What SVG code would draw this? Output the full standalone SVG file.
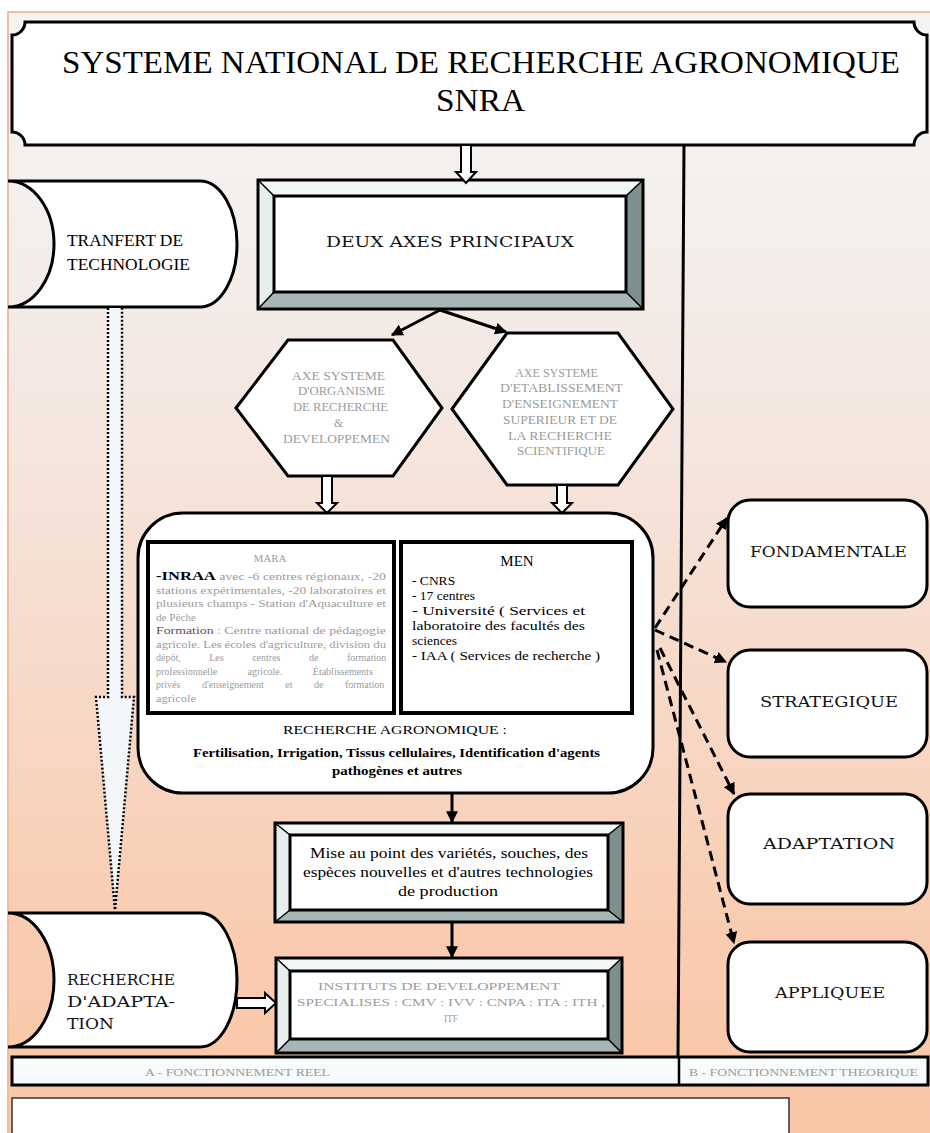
<svg xmlns="http://www.w3.org/2000/svg" width="930" height="1133" viewBox="0 0 930 1133">
  <defs>
    <linearGradient id="bg" x1="0" y1="0" x2="0" y2="1">
      <stop offset="0" stop-color="#f6f4f3"/>
      <stop offset="0.18" stop-color="#f3efed"/>
      <stop offset="0.4" stop-color="#f5e5dd"/>
      <stop offset="0.62" stop-color="#f7d8c6"/>
      <stop offset="0.82" stop-color="#f9ccb1"/>
      <stop offset="1" stop-color="#f9c6a5"/>
    </linearGradient>
    <marker id="ah" viewBox="0 0 10 10" refX="9" refY="5" markerWidth="4" markerHeight="4" orient="auto">
      <path d="M0,0 L10,5 L0,10 z" fill="#000"/>
    </marker>
  </defs>
  <style>
    .f{font-family:"Liberation Serif","Times New Roman",serif;fill:#000}
    .slab{font-family:"DejaVu Serif","Liberation Serif",serif;fill:#111}
    .g{fill:#9c9c9c}
    .ln{fill:none;stroke:#000;stroke-width:3}
    .box{fill:#fff;stroke:#000;stroke-width:3}
    .hollow{fill:#fff;stroke:#000;stroke-width:2}
    .dash{fill:none;stroke:#000;stroke-width:3;stroke-dasharray:10 6}
    .bt{fill:#f3f7f7}.bl{fill:#e7eeee}.br{fill:#7e8f8d}.bb{fill:#a8b7b6}
    .diag{stroke:#000;stroke-width:1.5}
  </style>

  <!-- page background -->
  <rect x="0" y="0" width="930" height="1133" fill="#ffffff"/>
  <rect x="8" y="12" width="924" height="1125" fill="url(#bg)" stroke="#f1bd9e" stroke-width="2"/>

  <!-- column divider -->
  <path d="M684 145 L678 1057" class="ln" stroke-width="2.5"/>

  <!-- title plaque -->
  <g id="title">
    <path d="M25 22 H914 A13 13 0 0 0 927 35 V132 A13 13 0 0 0 914 145 H25 A13 13 0 0 0 12 132 V35 A13 13 0 0 0 25 22 Z" class="box"/>
    <text class="f" x="62" y="73" font-size="31" textLength="838" lengthAdjust="spacingAndGlyphs">SYSTEME NATIONAL DE RECHERCHE AGRONOMIQUE</text>
    <text class="f" x="436" y="111" font-size="31" textLength="89" lengthAdjust="spacingAndGlyphs">SNRA</text>
  </g>

  <!-- transfer of technology -->
  <g id="transfert">
    <path d="M8 181 H200 A37 63 0 0 1 200 307 H8 A46 63 0 0 0 8 181 Z" class="box"/>
    <text class="f" x="67" y="246" font-size="16" textLength="116" lengthAdjust="spacingAndGlyphs">TRANFERT DE</text>
    <text class="f" x="67" y="270" font-size="16" textLength="123" lengthAdjust="spacingAndGlyphs">TECHNOLOGIE</text>
  </g>

  <!-- two main axes -->
  <g id="deux-axes">
    <polygon class="bt" points="258,180 643,180 626,196 274,196"/>
    <polygon class="bl" points="258,180 274,196 274,292 258,309"/>
    <polygon class="br" points="643,180 643,309 626,292 626,196"/>
    <polygon class="bb" points="258,309 274,292 626,292 643,309"/>
    <path class="diag" d="M258 180 L274 196 M643 180 L626 196 M258 309 L274 292 M643 309 L626 292"/>
    <rect x="274" y="196" width="352" height="96" class="box"/>
    <rect x="258" y="180" width="385" height="129" fill="none" stroke="#000" stroke-width="3"/>
    <text class="slab" x="326" y="247" font-size="14" textLength="248" lengthAdjust="spacingAndGlyphs">DEUX AXES PRINCIPAUX</text>
  </g>

  <!-- research & development axis -->
  <g id="axe-rd">
    <polygon points="236,408 288,340 393,340 442,408 393,476 288,476" class="box"/>
    <g class="f g" font-size="12">
      <text x="292" y="380" textLength="93" lengthAdjust="spacingAndGlyphs">AXE SYSTEME</text>
      <text x="298" y="395" textLength="87" lengthAdjust="spacingAndGlyphs">D'ORGANISME</text>
      <text x="293" y="411" textLength="95" lengthAdjust="spacingAndGlyphs">DE RECHERCHE</text>
      <text x="334" y="427">&amp;</text>
      <text x="283" y="443" textLength="107" lengthAdjust="spacingAndGlyphs">DEVELOPPEMEN</text>
    </g>
  </g>

  <!-- higher education axis -->
  <g id="axe-esrs">
    <polygon points="452,409 507,333 618,333 673,409 618,485 507,485" class="box"/>
    <g class="f g" font-size="12">
      <text x="515" y="377" textLength="83" lengthAdjust="spacingAndGlyphs">AXE SYSTEME</text>
      <text x="500" y="392" textLength="123" lengthAdjust="spacingAndGlyphs">D'ETABLISSEMENT</text>
      <text x="502" y="408" textLength="116" lengthAdjust="spacingAndGlyphs">D'ENSEIGNEMENT</text>
      <text x="503" y="424" textLength="114" lengthAdjust="spacingAndGlyphs">SUPERIEUR ET DE</text>
      <text x="508" y="440" textLength="104" lengthAdjust="spacingAndGlyphs">LA RECHERCHE</text>
      <text x="517" y="455" textLength="88" lengthAdjust="spacingAndGlyphs">SCIENTIFIQUE</text>
    </g>
  </g>

  <!-- agronomic research block -->
  <g id="recherche">
    <rect x="138" y="513" width="515" height="280" rx="45" ry="45" class="box"/>
    <text class="f" x="395" y="734" font-size="13" text-anchor="middle" textLength="224" lengthAdjust="spacingAndGlyphs">RECHERCHE AGRONOMIQUE :</text>
    <text class="f" x="193" y="757" font-size="13" font-weight="bold" textLength="407" lengthAdjust="spacingAndGlyphs">Fertilisation, Irrigation, Tissus cellulaires, Identification d'agents</text>
    <text class="f" x="332" y="775" font-size="13" font-weight="bold" textLength="130" lengthAdjust="spacingAndGlyphs">pathogènes et autres</text>
  </g>

  <g id="mara">
    <rect x="148" y="542" width="246" height="171" fill="#fff" stroke="#000" stroke-width="4"/>
    <g class="f" font-size="10">
      <text x="270" y="562" text-anchor="middle" class="g" font-size="11">MARA</text>
      <text x="156" y="580" textLength="230" lengthAdjust="spacingAndGlyphs"><tspan font-weight="bold" font-size="12" fill="#000">-INRAA</tspan><tspan class="g"> avec -6 centres régionaux, -20</tspan></text>
      <text x="156" y="594" class="g" textLength="230" lengthAdjust="spacingAndGlyphs">stations expérimentales, -20 laboratoires et</text>
      <text x="156" y="607" class="g" textLength="230" lengthAdjust="spacingAndGlyphs">plusieurs champs - Station d'Aquaculture et</text>
      <text x="156" y="621" class="g" textLength="40" lengthAdjust="spacingAndGlyphs">de Pêche</text>
      <text x="156" y="634" textLength="230" lengthAdjust="spacingAndGlyphs"><tspan fill="#555">Formation</tspan><tspan class="g"> : Centre national de pédagogie</tspan></text>
      <text x="156" y="648" class="g" textLength="230" lengthAdjust="spacingAndGlyphs">agricole. Les écoles d'agriculture, division du</text>
      <text x="156" y="661" class="g" word-spacing="26">dépôt, Les centres de formation</text>
      <text x="156" y="675" class="g" word-spacing="28">professionnelle agricole. Établissements</text>
      <text x="156" y="688" class="g" word-spacing="19">privés d'enseignement et de formation</text>
      <text x="156" y="702" class="g" textLength="40" lengthAdjust="spacingAndGlyphs">agricole</text>
    </g>
  </g>

  <g id="men">
    <rect x="401" y="542" width="231" height="171" fill="#fff" stroke="#000" stroke-width="4"/>
    <g class="f" font-size="13.5">
      <text x="517" y="566" text-anchor="middle" font-size="15">MEN</text>
      <text x="412" y="585">- CNRS</text>
      <text x="412" y="600">- 17 centres</text>
      <text x="412" y="615" textLength="173" lengthAdjust="spacingAndGlyphs">- Université ( Services et</text>
      <text x="412" y="630" textLength="173" lengthAdjust="spacingAndGlyphs">laboratoire des facultés des</text>
      <text x="412" y="645">sciences</text>
      <text x="412" y="660" textLength="188" lengthAdjust="spacingAndGlyphs">- IAA ( Services de recherche )</text>
    </g>
  </g>

  <!-- development of varieties -->
  <g id="mise-au-point">
    <polygon class="bt" points="275,823 623,823 608,835 290,835"/>
    <polygon class="bl" points="275,823 290,835 290,910 275,922"/>
    <polygon class="br" points="623,823 623,922 608,910 608,835"/>
    <polygon class="bb" points="275,922 290,910 608,910 623,922"/>
    <path class="diag" d="M275 823 L290 835 M623 823 L608 835 M275 922 L290 910 M623 922 L608 910"/>
    <rect x="290" y="835" width="318" height="75" class="box"/>
    <rect x="275" y="823" width="348" height="99" fill="none" stroke="#000" stroke-width="3"/>
    <g class="f" font-size="15">
      <text x="310" y="858" textLength="278" lengthAdjust="spacingAndGlyphs">Mise au point des variétés, souches, des</text>
      <text x="303" y="877" textLength="290" lengthAdjust="spacingAndGlyphs">espèces nouvelles et d'autres technologies</text>
      <text x="398" y="896" textLength="100" lengthAdjust="spacingAndGlyphs">de production</text>
    </g>
  </g>

  <!-- specialised institutes -->
  <g id="instituts">
    <polygon class="bt" points="276,958 622,958 608,971 290,971"/>
    <polygon class="bl" points="276,958 290,971 290,1039 276,1053"/>
    <polygon class="br" points="622,958 622,1053 608,1039 608,971"/>
    <polygon class="bb" points="276,1053 290,1039 608,1039 622,1053"/>
    <path class="diag" d="M276 958 L290 971 M622 958 L608 971 M276 1053 L290 1039 M622 1053 L608 1039"/>
    <rect x="290" y="971" width="318" height="68" class="box"/>
    <rect x="276" y="958" width="346" height="95" fill="none" stroke="#000" stroke-width="3"/>
    <g class="f g" font-size="11">
      <text x="318" y="990" textLength="242" lengthAdjust="spacingAndGlyphs">INSTITUTS DE DEVELOPPEMENT</text>
      <text x="297" y="1006" textLength="308" lengthAdjust="spacingAndGlyphs">SPECIALISES : CMV : IVV : CNPA : ITA : ITH ,</text>
      <text x="444" y="1022" textLength="14" lengthAdjust="spacingAndGlyphs">ITF</text>
    </g>
  </g>

  <!-- adaptive research -->
  <g id="recherche-adaptation">
    <path d="M8 913 H200 A37 67 0 0 1 200 1047 H8 A46 67 0 0 0 8 913 Z" class="box"/>
    <g class="slab" font-size="14.5">
      <text x="67" y="985" textLength="108" lengthAdjust="spacingAndGlyphs">RECHERCHE</text>
      <text x="67" y="1007" textLength="108" lengthAdjust="spacingAndGlyphs">D'ADAPTA-</text>
      <text x="67" y="1029" textLength="47" lengthAdjust="spacingAndGlyphs">TION</text>
    </g>
  </g>

  <!-- theoretical research types -->
  <g id="fondamentale">
    <rect x="728" y="500" width="199" height="107" rx="22" class="box"/>
    <text class="slab" x="750" y="557" font-size="15" textLength="157" lengthAdjust="spacingAndGlyphs">FONDAMENTALE</text>
  </g>
  <g id="strategique">
    <rect x="728" y="650" width="199" height="107" rx="22" class="box"/>
    <text class="slab" x="760" y="707" font-size="15" textLength="138" lengthAdjust="spacingAndGlyphs">STRATEGIQUE</text>
  </g>
  <g id="adaptation">
    <rect x="728" y="794" width="199" height="110" rx="22" class="box"/>
    <text class="slab" x="763" y="849" font-size="15" textLength="132" lengthAdjust="spacingAndGlyphs">ADAPTATION</text>
  </g>
  <g id="appliquee">
    <rect x="728" y="942" width="199" height="110" rx="22" class="box"/>
    <text class="slab" x="775" y="998" font-size="15" textLength="110" lengthAdjust="spacingAndGlyphs">APPLIQUEE</text>
  </g>

  <!-- footer captions -->
  <g id="legende">
    <rect x="12" y="1057" width="916" height="28" fill="#f8fbfb" stroke="#000" stroke-width="3"/>
    <line x1="679" y1="1057" x2="679" y2="1085" stroke="#000" stroke-width="2.5"/>
    <text class="f g" x="145" y="1076" font-size="10" textLength="185" lengthAdjust="spacingAndGlyphs">A - FONCTIONNEMENT REEL</text>
    <text class="f g" x="689" y="1076" font-size="10" textLength="229" lengthAdjust="spacingAndGlyphs">B - FONCTIONNEMENT THEORIQUE</text>
  </g>
  <g id="cadre-vide">
    <rect x="12" y="1098" width="777" height="45" fill="#fff" stroke="#333" stroke-width="1.5"/>
  </g>

  <!-- connectors -->
  <g id="connectors">
    <path class="hollow" d="M461 145 V172 H456 L466 183 L476 172 H471 V145 Z"/>
    <path class="hollow" d="M322 476 V503 H317 L327 513 L337 503 H332 V476 Z"/>
    <path class="hollow" d="M557 485 V503 H552 L562 513 L572 503 H567 V485 Z"/>
    <path class="hollow" d="M237 998 H265 V993 L276 1003 L265 1013 V1008 H237 Z"/>
    <path d="M108 308 V697 H96 L115 910 L134 697 H122 V308" fill="#f4f7f9" stroke="#000" stroke-width="2.5" stroke-dasharray="2 2"/>
    <path class="ln" d="M440 310 L392 335" marker-end="url(#ah)"/>
    <path class="ln" d="M440 310 L506 332" marker-end="url(#ah)"/>
    <path class="ln" d="M452 793 L452 822" marker-end="url(#ah)"/>
    <path class="ln" d="M452 922 L452 957" marker-end="url(#ah)"/>
    <path class="dash" d="M655 628 L727 518" marker-end="url(#ah)"/>
    <path class="dash" d="M655 630 L726 662" marker-end="url(#ah)"/>
    <path class="dash" d="M660 648 L734 794" marker-end="url(#ah)"/>
    <path class="dash" d="M657 650 L734 943" marker-end="url(#ah)"/>
  </g>
</svg>
